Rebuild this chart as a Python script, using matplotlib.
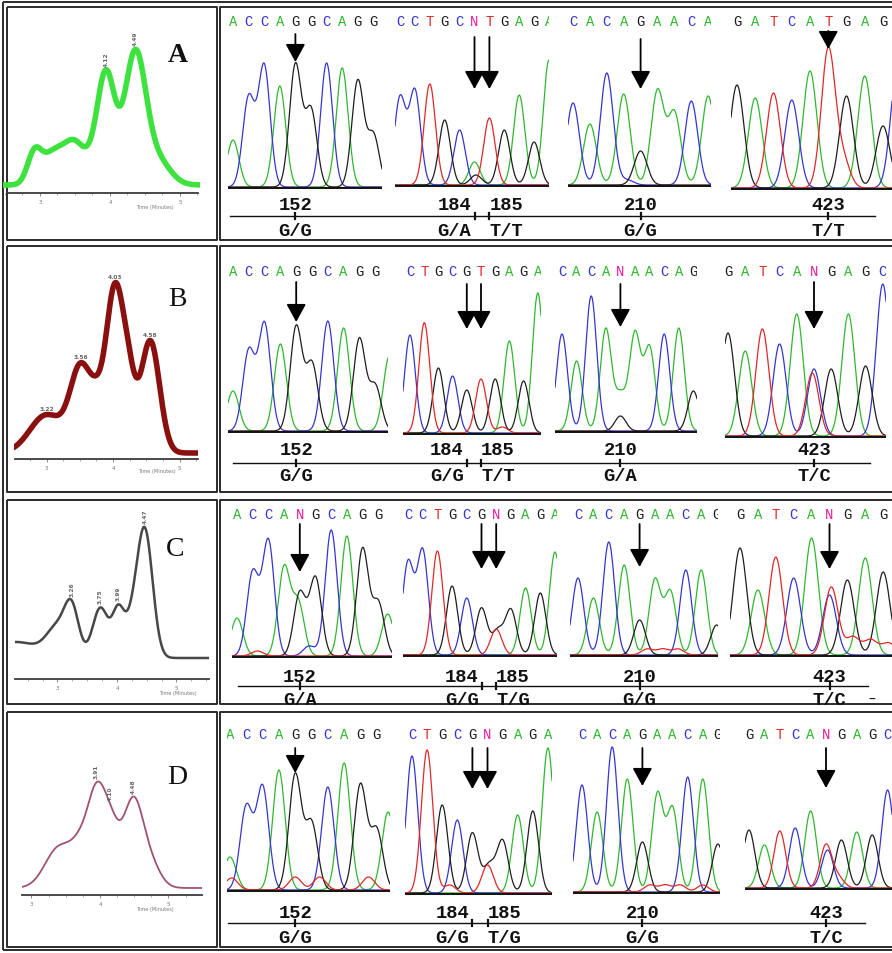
import numpy as np
import matplotlib
matplotlib.use("Agg")
import matplotlib.pyplot as plt
from matplotlib.ticker import MultipleLocator

W, H = 892, 954

# ---------------- DHPLC elution profiles ----------------
# each peak: (retention time in min, height, width in min)
dhplc_names = ["A", "B", "C", "D"]
dhplc_colors = ["#3ee23e", "#8a1010", "#474747", "#a05272"]
dhplc_lw = [4.0, 4.0, 1.8, 1.3]
dhplc_offset = [8, 6, 21, 7]
dhplc_peaks_A = [(2.92, 30, 0.10), (3.20, 32, 0.16), (3.50, 38, 0.14), (3.70, 8, 0.10),
                 (3.94, 112, 0.13), (4.36, 130, 0.15), (4.68, 24, 0.18)]
dhplc_peaks_B = [(3.00, 38, 0.25), (3.52, 84, 0.16), (3.75, 25, 0.10),
                 (4.03, 165, 0.14), (4.25, 45, 0.10), (4.56, 112, 0.14)]
dhplc_peaks_C = [(2.30, 16, 0.40), (3.00, 28, 0.18), (3.24, 45, 0.12), (3.72, 50, 0.13),
                 (4.02, 45, 0.10), (4.25, 30, 0.12), (4.47, 125, 0.13)]
dhplc_peaks_D = [(3.40, 40, 0.20), (3.75, 40, 0.15), (3.95, 70, 0.12),
                 (4.15, 60, 0.13), (4.48, 82, 0.14), (4.72, 25, 0.15)]
dhplc_peaks = [dhplc_peaks_A, dhplc_peaks_B, dhplc_peaks_C, dhplc_peaks_D]
dhplc_labels_A = [("4.12", 3.94), ("4.49", 4.36)]
dhplc_labels_B = [("3.22", 3.00), ("3.56", 3.52), ("4.03", 4.03), ("4.58", 4.56)]
dhplc_labels_C = [("3.26", 3.24), ("3.75", 3.72), ("3.99", 4.02), ("4.47", 4.47)]
dhplc_labels_D = [("3.91", 3.95), ("4.10", 4.15), ("4.48", 4.48)]
dhplc_labels = [dhplc_labels_A, dhplc_labels_B, dhplc_labels_C, dhplc_labels_D]
time_ticks = [3, 4, 5]

# ---------------- sequencing traces ----------------
base_colors = {"A": "#2fb82f", "C": "#3535d2", "G": "#1e1e1e", "T": "#e02828", "N": "#f0149c"}
sites = ["152", "184", "185", "210", "423"]
geno_A = ["G/G", "G/A", "T/T", "G/G", "T/T"]
geno_B = ["G/G", "G/G", "T/T", "G/A", "T/C"]
geno_C = ["G/A", "G/G", "T/G", "G/G", "T/C"]
geno_D = ["G/G", "G/G", "T/G", "G/G", "T/C"]
genotypes = [geno_A, geno_B, geno_C, geno_D]

calls_A = ["ACCAGGCAGG", "CCTGCNTGAGA", "CACAGAACA", "GATCATGAG"]
calls_B = ["ACCAGGCAGG", "CTGCGTGAGA", "CACANAACAG", "GATCANGAGC"]
calls_C = ["ACCANGCAGG", "CCTGCGNGAGA", "CACAGAACAG", "GATCANGAG"]
calls_D = ["ACCAGGCAGG", "CTGCGNGAGA", "CACAGAACAG", "GATCANGAGC"]
calls = [calls_A, calls_B, calls_C, calls_D]

# main peak under each call (N resolved to its taller peak)
bases_A = ["ACCAGGCAGG", "CCTGCATGAGA", "CACAGAACA", "GATCATGAG"]
bases_B = ["ACCAGGCAGG", "CTGCGTGAGA", "CACAAAACAG", "GATCACGAGC"]
bases_C = ["ACCAGGCAGG", "CCTGCGTGAGA", "CACAGAACAG", "GATCACGAG"]
bases_D = ["ACCAGGCAGG", "CTGCGTGAGA", "CACAGAACAG", "GATCATGAGC"]
bases = [bases_A, bases_B, bases_C, bases_D]

heights_A = [[47, 89, 121, 101, 122, 77, 124, 119, 106, 52],
             [87, 94, 101, 65, 55, 23, 67, 55, 90, 43, 125],
             [82, 61, 112, 91, 34, 94, 72, 84, 89],
             [103, 90, 95, 88, 117, 138, 92, 112, 62]]
heights_B = [[40, 80, 107, 87, 104, 67, 110, 103, 92, 45],
             [98, 105, 65, 57, 43, 54, 54, 92, 52, 140],
             [97, 70, 135, 102, 35, 97, 83, 97, 103, 40],
             [103, 85, 107, 92, 122, 67, 67, 122, 70, 152]]
heights_C = [[38, 83, 115, 88, 63, 78, 126, 120, 107, 53],
             [92, 104, 104, 69, 57, 47, 26, 45, 67, 62, 103],
             [77, 57, 113, 90, 35, 75, 63, 85, 85, 30],
             [107, 65, 98, 77, 117, 60, 75, 97, 83]]
heights_D = [[33, 83, 103, 120, 115, 67, 103, 127, 105, 60],
             [137, 143, 88, 73, 60, 28, 52, 78, 82, 145],
             [107, 80, 145, 113, 50, 98, 83, 115, 113, 48],
             [58, 43, 57, 60, 77, 43, 48, 56, 53, 98]]
heights = [heights_A, heights_B, heights_C, heights_D]

# secondary / background peaks: (position in bases, base, height)
extra_A = [[], [(5.1, "G", 10)], [(3.2, "C", 5)], [(5.8, "T", 28), (8.8, "C", 120)]]
extra_B = [[(9.9, "A", 75)], [(1.2, "T", 6), (6.5, "T", 6)], [(4.0, "G", 15)], [(4.9, "T", 63)]]
extra_C = [[(3.9, "A", 53), (9.6, "A", 42), (4.6, "C", 10), (1.3, "T", 5)],
           [(6.1, "G", 24)],
           [(4.5, "T", 6), (5.5, "T", 6), (6.5, "T", 6)],
           [(5.1, "T", 68), (6.3, "T", 18), (7.3, "T", 15), (8.3, "T", 12)]]
extra_D = [[(9.7, "A", 78), (0.1, "T", 12), (4.0, "T", 13), (5.5, "T", 13), (8.5, "T", 13)],
           [(5.1, "G", 27), (2.5, "T", 8)],
           [(4.5, "T", 7), (5.5, "T", 7), (6.5, "T", 7), (8.0, "T", 7)],
           [(5.1, "C", 38), (5.8, "T", 10)]]
extras = [extra_A, extra_B, extra_C, extra_D]

arrows = [[[4], [5, 6], [4], [5]],
          [[4], [4, 5], [4], [5]],
          [[4], [5, 6], [4], [5]],
          [[4], [4, 5], [4], [5]]]
site_panel = [(0, 0), (1, 0), (1, 1), (2, 0), (3, 0)]

# ---------------- layout (pixels) ----------------
# left cells: axes x0, y_top, x1, y_axis, px of 4 min, px per min, axis line ends
dhplc_box = [(3, 30, 200, 194, 110, 70.0, 8, 198),
             (14, 262, 198, 460, 113, 66.5, 15, 198),
             (15, 515, 209, 680, 117, 59.5, 15, 209),
             (22, 770, 202, 896, 100, 68.5, 22, 202)]
dhplc_letter_xy = [(178, 55), (177, 300), (175, 550), (177, 778)]
time_label_xy = [(155, 207), (157, 472), (178, 694), (155, 910)]
label_rot = [90, 0, 90, 90]

# trace panels: first call px, base pitch px, left px, right px, baseline px
seq_boxes = [
    [(233, 15.6, 228, 382, 189), (400, 14.9, 395, 549, 187), (573, 16.9, 568, 711, 187), (737, 18.25, 731, 892, 190)],
    [(233, 15.8, 228, 388, 433), (410, 14.2, 403, 541, 435), (562, 14.6, 555, 697, 433), (728, 17.2, 725, 886, 438)],
    [(237, 15.7, 232, 392, 658), (408, 14.7, 403, 557, 657), (578, 15.4, 570, 718, 657), (740, 17.9, 730, 892, 657)],
    [(230, 16.3, 227, 390, 892), (412, 15.1, 405, 552, 895), (582, 15.1, 573, 720, 894), (749, 15.4, 745, 892, 890)],
]
peak_width = 0.38
call_y = [22, 272, 515, 735]
arrow_top = [[35, 38, 40, 32], [283, 285, 285, 283], [525, 525, 525, 525], [749, 749, 749, 749]]
arrow_tip = [[63, 90, 90, 50], [323, 330, 328, 330], [573, 570, 568, 570], [774, 790, 787, 789]]
# number y, line y, genotype y, line start, line end
site_rows = [(206, 217, 232, 230, 875), (451, 464, 477, 233, 870),
             (678, 687, 701, 238, 868), (914, 924, 939, 228, 865)]
cells_y = [(8, 241), (247, 493), (501, 705), (713, 948)]

fig = plt.figure(figsize=(W / 100, H / 100), dpi=100)
fig.patch.set_facecolor("white")


def px_axes(x0, y0, x1, y1):
    a = fig.add_axes([x0 / W, 1 - y1 / H, (x1 - x0) / W, (y1 - y0) / H])
    a.patch.set_visible(False)
    return a


def gauss_sum(x, peaks):
    y = np.zeros_like(x)
    for c, h, s in peaks:
        y += h * np.exp(-0.5 * ((x - c) / s) ** 2)
    return y


bg = px_axes(0, 0, W, H)
bg.set_xlim(0, W)
bg.set_ylim(H, 0)
bg.axis("off")

frame = dict(color="#2b2b2b", lw=1.4, solid_capstyle="butt")
bg.plot([3, 3], [3, 951], **frame)
bg.plot([3, W], [3, 3], **frame)
bg.plot([3, W], [951, 951], **frame)
for y0, y1 in cells_y:
    bg.plot([7, 217, 217, 7, 7], [y0, y0, y1, y1, y0], **frame)
    bg.plot([W, 220, 220, W], [y0, y0, y1, y1], **frame)

# ---- DHPLC panels ----
for i, name in enumerate(dhplc_names):
    x0, yt, x1, ya, p4, ppm, ax0, ax1 = dhplc_box[i]
    tl, tr = 4 + (x0 - p4) / ppm, 4 + (x1 - p4) / ppm
    ax = px_axes(x0, yt, x1, ya)
    t = np.linspace(tl, tr, 500)
    sig = dhplc_offset[i] + gauss_sum(t, dhplc_peaks[i])
    ax.plot(t, sig, color=dhplc_colors[i], lw=dhplc_lw[i], solid_capstyle="round")
    ax.set_xlim(tl, tr)
    ax.set_ylim(0, ya - yt)
    for s in ["top", "left", "right"]:
        ax.spines[s].set_visible(False)
    ax.spines["bottom"].set_bounds(4 + (ax0 - p4) / ppm, 4 + (ax1 - p4) / ppm)
    ax.spines["bottom"].set_color("#3a3a3a")
    ax.spines["bottom"].set_linewidth(1.3)
    ax.set_xticks(time_ticks)
    ax.xaxis.set_minor_locator(MultipleLocator(0.25))
    ax.tick_params(axis="x", which="major", length=2, width=0.6, pad=2,
                   labelsize=4, colors="#777777")
    ax.tick_params(axis="x", which="minor", length=1.2, width=0.5, colors="#888888")
    ax.set_yticks([])
    for txt, tp in dhplc_labels[i]:
        yv = dhplc_offset[i] + gauss_sum(np.array([tp]), dhplc_peaks[i])[0]
        ax.text(tp, yv + 4, txt, rotation=label_rot[i], fontsize=4.2, color="#666666",
                ha="center", va="bottom", fontweight="bold")
    lx, ly = time_label_xy[i]
    bg.text(lx, ly, "Time (Minutes)", fontsize=3.6, color="#777777", ha="center", va="center")
    tx, ty = dhplc_letter_xy[i]
    bg.text(tx, ty, name, fontsize=20, family="Liberation Serif",
            fontweight="bold" if name == "A" else "normal", ha="center", va="center", color="#111111")

# ---- sequencing panels ----
for r in range(4):
    for p in range(4):
        first, pitch, xl, xr, yb = seq_boxes[r][p]
        lo, hi = (xl - first) / pitch, (xr - first) / pitch
        top = call_y[r] - 9
        ax = px_axes(xl, top, xr, yb + 2)
        ax.set_xlim(lo, hi)
        ax.set_ylim(-2, yb - top)
        ax.axis("off")
        x = np.linspace(lo, hi, 700)
        pk = [(k, b, h) for k, (b, h) in enumerate(zip(bases[r][p], heights[r][p]))]
        pk += extras[r][p]
        for b in "ACGT":
            chan = [(c, h, peak_width) for c, bb, h in pk if bb == b]
            ax.plot(x, 1.0 + gauss_sum(x, chan), color=base_colors[b], lw=0.9)
        ax.plot([lo, hi], [0, 0], color="#111111", lw=1.4)
        for k, ch in enumerate(calls[r][p]):
            ax.text(k, yb - call_y[r], ch, color=base_colors[ch], fontsize=10,
                    family="Liberation Mono", ha="center", va="center", clip_on=True)
        for k in arrows[r][p]:
            ax.annotate("", xy=(k, yb - arrow_tip[r][p]), xytext=(k, yb - arrow_top[r][p]),
                        arrowprops=dict(arrowstyle="-|>,head_length=1.1,head_width=0.6",
                                        color="black", lw=1.3, shrinkA=0, shrinkB=0))

    ny, ly, gy, lx0, lx1 = site_rows[r]
    bg.plot([lx0, lx1], [ly, ly], color="#111111", lw=1.0)
    for s, (p, j) in enumerate(site_panel):
        first, pitch = seq_boxes[r][p][:2]
        tick_x = first + pitch * arrows[r][p][j]
        bg.plot([tick_x, tick_x], [ly - 3, ly + 3], color="#111111", lw=1.6)
        if s == 1:
            ha, dx = "right", -3
        elif s == 2:
            ha, dx = "left", 0
        else:
            ha, dx = "center", 0
        bg.text(tick_x + dx, ny, sites[s], fontsize=13.5, family="Liberation Mono",
                fontweight="bold", ha=ha, va="center", color="#111111")
        bg.text(tick_x + dx, gy, genotypes[r][s], fontsize=13.5, family="Liberation Mono",
                fontweight="bold", ha=ha, va="center", color="#111111")

bg.text(872, 700, "\u2013", fontsize=10, ha="center", va="center", color="#111111")

fig.savefig("out.png", dpi=100, facecolor="white")
